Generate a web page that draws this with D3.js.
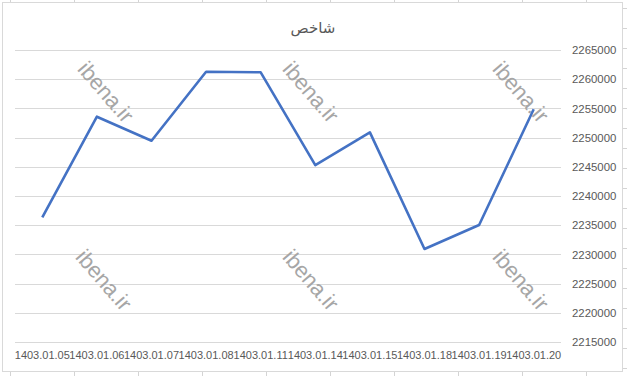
<!DOCTYPE html>
<html>
<head>
<meta charset="utf-8">
<script src="https://cdn.jsdelivr.net/npm/d3@7"></script>
<style>
  body { margin: 0; background: #fff; }
  #chart { width: 627px; height: 376px; }
  .axis text { font-family: "Liberation Sans", Arial, sans-serif; fill: #595959; }
</style>
</head>
<body>
<div id="chart"></div>
<script>
// data
const dates = ["1403.01.05","1403.01.06","1403.01.07","1403.01.08","1403.01.11",
               "1403.01.14","1403.01.15","1403.01.18","1403.01.19","1403.01.20"];
const index = [2236350, 2253580, 2249470, 2261280, 2261180,
               2245300, 2250900, 2230920, 2235030, 2254850];
const yTicks = [2215000, 2220000, 2225000, 2230000, 2235000, 2240000,
                2245000, 2250000, 2255000, 2260000, 2265000];
const title = "شاخص";
const watermark = "ibena.ir";

//dims
const width = 627, height = 376;
const margin = { top: 50, left: 15, right: 66, bottom: 34 };

const svg = d3.select("#chart")
    .append("svg")
    .attr("width", width)
    .attr("height", height);

// excel cell grid peeking out around the chart
const cellLines = svg.append("g").attr("stroke", "#d4d4d4").attr("stroke-width", 1);
for (let x = 10; x < width; x += 64) {
    cellLines.append("line").attr("x1", x + 0.5).attr("x2", x + 0.5).attr("y1", 0).attr("y2", 3);
    cellLines.append("line").attr("x1", x + 0.5).attr("x2", x + 0.5).attr("y1", 372).attr("y2", height);
}
for (let y = 8; y < height; y += 20) {
    cellLines.append("line").attr("x1", 623).attr("x2", width).attr("y1", y + 0.5).attr("y2", y + 0.5);
}

// chart border
svg.append("rect")
    .attr("x", 2.5).attr("y", 2.5)
    .attr("width", 620).attr("height", 369)
    .attr("fill", "#fff")
    .attr("stroke", "#d9d9d9");

//scales
const xScale = d3.scaleBand()
    .domain(dates)
    .range([margin.left, width - margin.right]);
const yScale = d3.scaleLinear()
    .domain([2215000, 2265000])
    .range([height - margin.bottom, margin.top]);

// gridlines
svg.append("g")
    .selectAll("line")
    .data(yTicks)
    .join("line")
        .attr("x1", margin.left)
        .attr("x2", width - margin.right)
        .attr("y1", d => Math.round(yScale(d)) + 0.5)
        .attr("y2", d => Math.round(yScale(d)) + 0.5)
        .attr("stroke", "#d9d9d9");

//axes
const yAxis = svg.append("g")
    .attr("class", "axis")
    .attr("transform", `translate(${width - margin.right},0)`)
    .call(d3.axisRight(yScale).tickValues(yTicks).tickSize(0).tickPadding(11).tickFormat(d3.format("d")));
yAxis.select(".domain").remove();
yAxis.selectAll("text").style("font-size", "11.4px");

const xAxis = svg.append("g")
    .attr("class", "axis")
    .attr("transform", `translate(0,${height - margin.bottom})`)
    .call(d3.axisBottom(xScale).tickSize(0).tickPadding(9));
xAxis.select(".domain").remove();
xAxis.selectAll("text").style("font-size", "11px");

// watermarks
const wmPos = [[106, 92], [311, 92], [521, 92], [104, 280], [311, 280], [521, 280]];
svg.append("g")
    .selectAll("text")
    .data(wmPos)
    .join("text")
        .attr("transform", d => `translate(${d[0]},${d[1]}) rotate(49)`)
        .attr("text-anchor", "middle")
        .attr("dy", "0.35em")
        .style("font-family", "Liberation Sans, Arial, sans-serif")
        .style("font-size", "22px")
        .attr("fill", "#a6a6a6")
        .text(watermark);

//line
const line = d3.line()
    .x((d, i) => xScale(dates[i]) + xScale.bandwidth() / 2)
    .y(d => yScale(d));
svg.append("path")
    .datum(index)
    .attr("d", line)
    .attr("fill", "none")
    .attr("stroke", "#4472c4")
    .attr("stroke-width", 2.6)
    .attr("stroke-linejoin", "round");

// title
svg.append("text")
    .attr("x", 313)
    .attr("y", 28)
    .attr("text-anchor", "middle")
    .attr("dy", "0.35em")
    .style("font-family", "DejaVu Sans, sans-serif")
    .style("font-size", "15px")
    .attr("fill", "#595959")
    .text(title);
</script>
</body>
</html>
